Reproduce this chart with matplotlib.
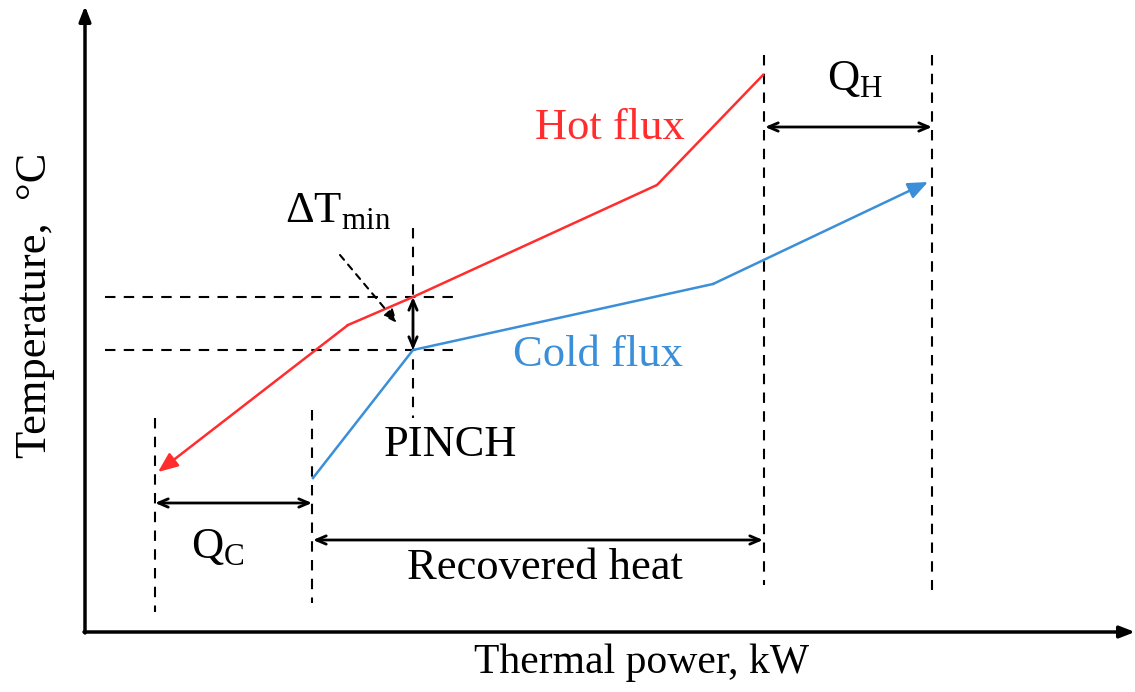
import numpy as np
import matplotlib
matplotlib.use('Agg')
from matplotlib import pyplot as plt

plt.rcParams['font.family'] = ['Liberation Serif', 'DejaVu Serif']

# Кривые (координаты диаграммы, ось y направлена вниз)
hot_x = [763, 657, 413, 348, 158]
hot_y = [75, 185, 297, 325, 472]
cold_x = [313, 413, 713, 928]
cold_y = [478, 350, 284, 182]

# Вертикальные пунктирные линии: x, y начала, y конца
vlines_x = [155, 312, 413, 764, 932]
vlines_y0 = [418, 410, 228, 55, 55]
vlines_y1 = [612, 603, 418, 585, 590]
# Горизонтальные пунктирные линии
hlines_y = [297, 350]
hlines_x0 = [105, 105]
hlines_x1 = [455, 458]

RED = '#ff2d2d'
BLUE = '#3a8fd8'

fig = plt.figure(figsize=(11.35, 6.92), dpi=100)
ax = fig.add_axes([0, 0, 1, 1])
ax.set_xlim(0, 1135)
ax.set_ylim(692, 0)
ax.axis('off')

# Оси
ax.annotate('', xy=(85, 6), xytext=(85, 633),
            arrowprops=dict(arrowstyle='-|>,head_length=0.9,head_width=0.35',
                            color='black', lw=2.5, shrinkA=0, shrinkB=0))
ax.annotate('', xy=(1135, 632), xytext=(84, 632),
            arrowprops=dict(arrowstyle='-|>,head_length=0.9,head_width=0.35',
                            color='black', lw=2.5, shrinkA=0, shrinkB=0))

# Пунктир
for x, y0, y1 in zip(vlines_x, vlines_y0, vlines_y1):
    ax.plot([x, x], [y0, y1], color='black', lw=1.5, ls=(0, (5, 4)))
for y, x0, x1 in zip(hlines_y, hlines_x0, hlines_x1):
    ax.plot([x0, x1], [y, y], color='black', lw=1.5, ls=(0, (5, 4)))

# Горячий поток
ax.plot(hot_x[:-1], hot_y[:-1], color=RED, lw=1.8)
ax.annotate('', xy=(hot_x[-1], hot_y[-1]), xytext=(hot_x[-2], hot_y[-2]),
            arrowprops=dict(arrowstyle='-|>,head_length=1.2,head_width=0.5',
                            color=RED, lw=1.8, shrinkA=0, shrinkB=0))
# Холодный поток
ax.plot(cold_x[:-1], cold_y[:-1], color=BLUE, lw=1.8)
ax.annotate('', xy=(cold_x[-1], cold_y[-1]), xytext=(cold_x[-2], cold_y[-2]),
            arrowprops=dict(arrowstyle='-|>,head_length=1.2,head_width=0.5',
                            color=BLUE, lw=1.8, shrinkA=0, shrinkB=0))

# Двусторонние стрелки
def dim_arrow(p0, p1):
    ax.annotate('', xy=p1, xytext=p0,
                arrowprops=dict(arrowstyle='<->,head_length=0.7,head_width=0.3',
                                color='black', lw=2, shrinkA=0, shrinkB=0))

dim_arrow((155, 503), (312, 503))
dim_arrow((313, 540), (763, 540))
dim_arrow((765, 127), (932, 127))
dim_arrow((413, 297), (413, 350))

# Указатель на ΔTmin
ax.annotate('', xy=(397, 323), xytext=(340, 255),
            arrowprops=dict(arrowstyle='-|>,head_length=0.8,head_width=0.35',
                            color='black', lw=1.5, ls=(0, (3, 3)),
                            shrinkA=0, shrinkB=0))

fs = 32
ax.text(610, 128, 'Hot flux', color=RED, fontsize=fs, ha='center', va='center')
ax.text(598, 355, 'Cold flux', color=BLUE, fontsize=fs, ha='center', va='center')
ax.text(450, 445, 'PINCH', fontsize=fs, ha='center', va='center')
ax.text(545, 568, 'Recovered heat', fontsize=fs, ha='center', va='center')
ax.text(218, 548, r'Q$_{\mathregular{C}}$', fontsize=fs, ha='center', va='center')
ax.text(855, 80, r'Q$_{\mathregular{H}}$', fontsize=fs, ha='center', va='center')
ax.text(338, 212, r'ΔT$_{\mathregular{min}}$', fontsize=fs, ha='center', va='center')
ax.text(35, 305, 'Temperature,  °C', fontsize=fs, ha='center', va='center',
        rotation=90)
ax.text(642, 663, 'Thermal power, kW', fontsize=30, ha='center', va='center')

fig.savefig('out.png', dpi=100)
